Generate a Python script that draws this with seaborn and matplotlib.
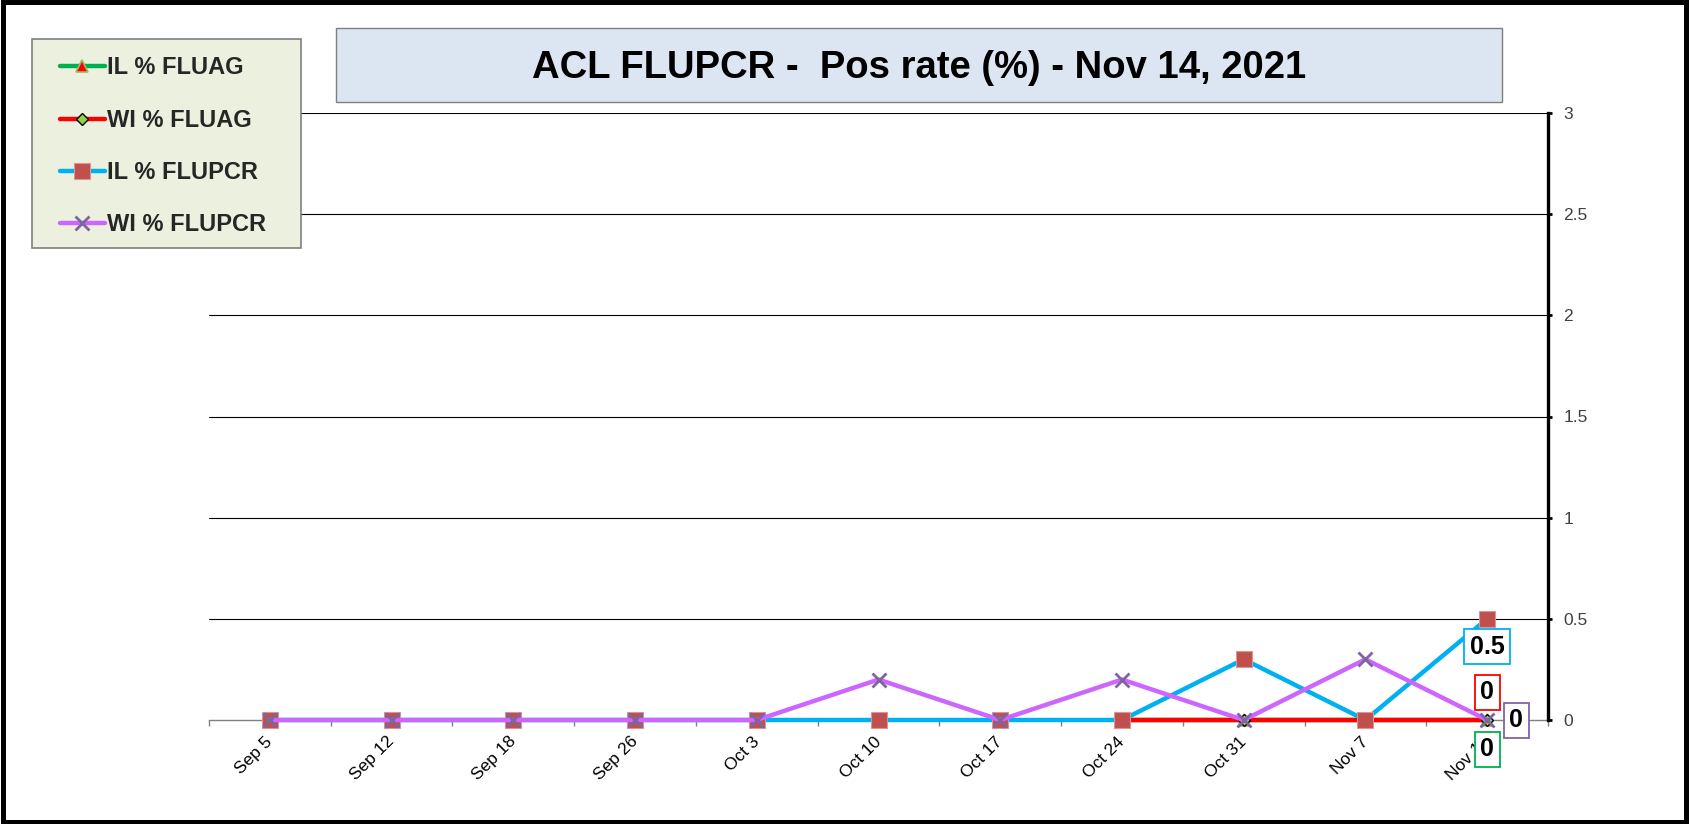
import numpy as np
import pandas as pd
import matplotlib
matplotlib.use('Agg')
import matplotlib.pyplot as plt
import matplotlib.transforms as mtransforms
import seaborn as sns
from matplotlib.patches import Rectangle
from matplotlib.ticker import FuncFormatter

# data
weeks = ['Sep 5', 'Sep 12', 'Sep 18', 'Sep 26', 'Oct 3', 'Oct 10',
         'Oct 17', 'Oct 24', 'Oct 31', 'Nov 7', 'Nov 14']
il_fluag = [np.nan, np.nan, np.nan, np.nan, np.nan, np.nan, np.nan, 0, 0, 0, 0]
wi_fluag = [np.nan, np.nan, np.nan, np.nan, np.nan, np.nan, np.nan, 0, 0, 0, 0]
il_flupcr = [0, 0, 0, 0, 0, 0, 0, 0, 0.3, 0, 0.5]
wi_flupcr = [0, 0, 0, 0, 0, 0.2, 0, 0.2, 0, 0.3, 0]

title = 'ACL FLUPCR -  Pos rate (%) - Nov 14, 2021'

sns.set_theme(style='white')
plt.rcParams['font.family'] = ['Liberation Sans', 'DejaVu Sans']

W, H = 1689, 824
fig = plt.figure(figsize=(W / 100, H / 100), dpi=100)
ax = fig.add_axes([209 / W, 1 - 720 / H, (1548 - 209) / W, (720 - 113) / H])

x = np.arange(len(weeks))

# name, values, line colour, marker, face, edge, size, edge width, label box colour, label offset (px)
series = [
    ('IL % FLUAG', il_fluag, '#00B050', '^', '#FF0000', '#9BBB59', 8, 1.2, '#00B050', (0, -29)),
    ('WI % FLUAG', wi_fluag, '#FF0000', 'D', '#92D050', 'black', 6, 1.0, '#FF0000', (0, 28)),
    ('IL % FLUPCR', il_flupcr, '#00B0F0', 's', '#C0504D', '#D99694', 11, 0.8, '#00B0F0', (0, -28)),
    ('WI % FLUPCR', wi_flupcr, '#CC66FF', 'x', '#8064A2', '#8064A2', 10, 2.0, '#8064A2', (29, 0)),
]

handles = []
for name, vals, lc, mk, mf, me, ms, mew, bc, off in series:
    df = pd.DataFrame({'week': x, 'val': vals})
    sns.lineplot(data=df, x='week', y='val', ax=ax, color=lc, linewidth=3.2,
                 marker=mk, markersize=ms, markerfacecolor=mf,
                 markeredgecolor=me, markeredgewidth=mew, errorbar=None,
                 label=name, legend=False)
    handles.append(ax.lines[-1])
    last = vals[-1]
    ax.annotate(f'{last:g}', xy=(x[-1], last), xytext=off, textcoords='offset pixels',
                ha='center', va='center', fontsize=18, fontweight='bold', color='black',
                bbox=dict(boxstyle='square,pad=0.22', fc='white', ec=bc, lw=1.3),
                annotation_clip=False, zorder=10)

for ln in ax.lines:
    ln.set_linewidth(3.2)
    ln.set_clip_on(False)
    ln.set_zorder(3)

ax.set_xlim(-0.5, len(weeks) - 0.5)
ax.set_ylim(0, 3)
ax.set_xlabel('')
ax.set_ylabel('')

# y axis on the right
ax.set_yticks(np.arange(0, 3.01, 0.5))
ax.yaxis.set_major_formatter(FuncFormatter(lambda v, p: f'{v:g}'))
ax.yaxis.tick_right()
ax.tick_params(axis='y', direction='out', length=3, width=2, color='black',
               labelcolor='#404040', labelsize=12.5, pad=8)

# x axis: labels at the centres, tick marks between categories
ax.set_xticks(x)
ax.set_xticklabels(weeks, rotation=45, ha='right', rotation_mode='anchor')
ax.tick_params(axis='x', which='major', length=0, labelsize=12.5, pad=10, labelcolor='black')
shift = mtransforms.ScaledTranslation(-5 / 100, 0, fig.dpi_scale_trans)
for lab in ax.get_xticklabels():
    lab.set_transform(lab.get_transform() + shift)
ax.set_xticks(np.arange(-0.5, len(weeks), 1), minor=True)
ax.tick_params(axis='x', which='minor', bottom=True, direction='out', length=4,
               width=1, color='#808080')

for s in ['left', 'top']:
    ax.spines[s].set_visible(False)
ax.spines['right'].set_color('black')
ax.spines['right'].set_linewidth(2.4)
ax.spines['bottom'].set_color('#808080')
ax.spines['bottom'].set_linewidth(1)
ax.spines['bottom'].set_zorder(1)

ax.grid(axis='y', color='black', lw=0.8)
ax.grid(axis='x', visible=False)
ax.set_axisbelow(True)
ax.yaxis.get_gridlines()[0].set_visible(False)

# title box
fig.add_artist(Rectangle((336 / W, 1 - 102 / H), (1502 - 336) / W, (102 - 28) / H,
                         transform=fig.transFigure, fc='#DCE6F2', ec='#7F7F7F', lw=1))
fig.text((336 + 1502) / 2 / W, 1 - 68 / H, title, ha='center', va='center',
         fontsize=27.5, fontweight='bold', color='black')

# legend box, then the legend entries without their own frame
fig.add_artist(Rectangle((32 / W, 1 - 248 / H), (301 - 32) / W, (248 - 39) / H,
                         transform=fig.transFigure, fc='#EBF1DE', ec='#808080', lw=1.2))
leg = fig.legend(handles, [s[0] for s in series], loc='upper left',
                 bbox_to_anchor=(60 / W, 1 - 56.5 / H), borderaxespad=0, borderpad=0,
                 prop={'size': 17, 'weight': 'bold'}, frameon=False,
                 handlelength=1.9, handletextpad=0.1, labelspacing=1.24)

# outer frame
fig.add_artist(Rectangle((3 / W, 2 / H), (1686 - 3) / W, (822 - 2) / H,
                         transform=fig.transFigure, fill=False, ec='black', lw=3.6))

fig.savefig('out.png', dpi=100)
